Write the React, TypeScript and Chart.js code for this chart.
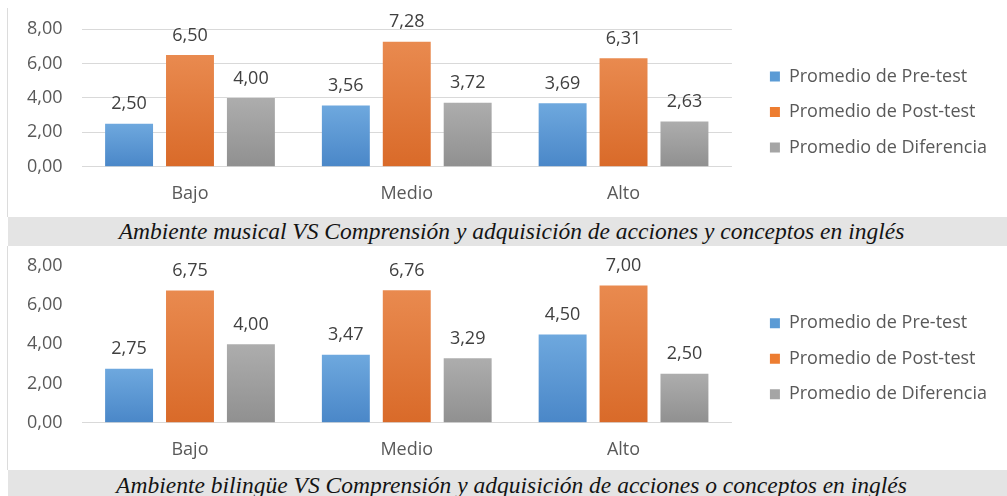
import React, { useEffect, useRef } from 'react';
import { Chart, registerables } from 'chart.js';

Chart.register(...registerables);

const categories = ['Bajo', 'Medio', 'Alto'];
const seriesNames = ['Promedio de Pre-test', 'Promedio de Post-test', 'Promedio de Diferencia'];

const musicalPre = [2.5, 3.56, 3.69];
const musicalPost = [6.5, 7.28, 6.31];
const musicalDiff = [4.0, 3.72, 2.63];

const bilingualPre = [2.75, 3.47, 4.5];
const bilingualPost = [6.75, 6.76, 7.0];
const bilingualDiff = [4.0, 3.29, 2.5];

const yTickMin = 0;
const yTickMax = 8;
const yTickStep = 2;

const captionMusical = 'Ambiente musical VS Comprensión y adquisición de acciones y conceptos en inglés';
const captionBilingual = 'Ambiente bilingüe VS Comprensión y adquisición de acciones o conceptos en inglés';

const flatColors = ['#5b9bd5', '#ed7d31', '#a5a5a5'];
const gradTop = ['#6ea8de', '#e98a4f', '#adadad'];
const gradBottom = ['#4a87c8', '#d96a29', '#909090'];

const FONT = '"Open Sans", "Noto Sans", sans-serif';

const fmt = (v: number) => v.toFixed(2).replace('.', ',');

const barFill = (i: number) => (c: any) => {
  const chart = c.chart;
  const y = chart.scales && chart.scales.y;
  if (!chart.chartArea || !y || c.raw === undefined) return flatColors[i];
  const top = y.getPixelForValue(c.raw);
  const bottom = y.getPixelForValue(0);
  const g = chart.ctx.createLinearGradient(0, top, 0, bottom);
  g.addColorStop(0, gradTop[i]);
  g.addColorStop(1, gradBottom[i]);
  return g;
};

const valueLabels = {
  id: 'valueLabels',
  afterDatasetsDraw(chart: any) {
    const ctx = chart.ctx;
    ctx.save();
    ctx.font = `18px ${FONT}`;
    ctx.fillStyle = '#404040';
    ctx.textAlign = 'center';
    ctx.textBaseline = 'middle';
    chart.data.datasets.forEach((ds: any, i: number) => {
      const meta = chart.getDatasetMeta(i);
      meta.data.forEach((bar: any, j: number) => {
        ctx.fillText(fmt(ds.data[j]), bar.x, bar.y - 19.5);
      });
    });
    ctx.restore();
  },
};

type PanelProps = {
  pre: number[];
  post: number[];
  diff: number[];
  showGrid: boolean;
  top: number;
  height: number;
  padTop: number;
  padBottom: number;
  axisH: number;
  yTickPad: number;
  xTickPad: number;
};

function BarPanel({ pre, post, diff, showGrid, top, height, padTop, padBottom, axisH, yTickPad, xTickPad }: PanelProps) {
  const ref = useRef<HTMLCanvasElement>(null);
  useEffect(() => {
    const values = [pre, post, diff];
    const chart = new Chart(ref.current as HTMLCanvasElement, {
      type: 'bar',
      data: {
        labels: categories,
        datasets: values.map((d, i) => ({
          label: seriesNames[i],
          data: d,
          backgroundColor: barFill(i) as any,
          borderWidth: 0,
          yAxisID: 'y',
        })),
      },
      options: {
        responsive: false,
        animation: false,
        devicePixelRatio: 1,
        layout: { padding: { top: padTop, bottom: padBottom, left: 0, right: 10 } },
        datasets: { bar: { categoryPercentage: 0.843, barPercentage: 0.787 } } as any,
        plugins: {
          tooltip: { enabled: false },
          legend: {
            position: 'right',
            maxWidth: 320,
            labels: {
              font: { family: FONT, size: 18 },
              color: '#595959',
              boxWidth: 10,
              boxHeight: 10,
              padding: 17.5,
              generateLabels: (ch: any) =>
                ch.data.datasets.map((ds: any, i: number) => ({
                  text: ds.label,
                  fillStyle: flatColors[i],
                  strokeStyle: flatColors[i],
                  lineWidth: 0,
                  hidden: false,
                  datasetIndex: i,
                  fontColor: '#595959',
                })),
            },
          },
        },
        scales: {
          x: {
            grid: { display: false, drawTicks: false },
            border: { display: false },
            ticks: {
              autoSkip: false,
              maxRotation: 0,
              font: { family: FONT, size: 18 },
              color: '#595959',
              padding: xTickPad,
            },
            afterFit: (s: any) => {
              s.height = axisH;
            },
          },
          y: {
            min: yTickMin,
            max: yTickMax,
            ticks: {
              stepSize: yTickStep,
              font: { family: FONT, size: 18 },
              color: '#595959',
              padding: yTickPad,
              callback: (v: any) => fmt(Number(v)),
            },
            grid: {
              drawTicks: true,
              tickLength: 19 - yTickPad,
              tickColor: 'rgba(0,0,0,0)',
              lineWidth: 1,
              color: showGrid
                ? '#d9d9d9'
                : ((c: any) => (c.tick && c.tick.value === 0 ? '#d9d9d9' : 'rgba(0,0,0,0)')) as any,
            },
            border: { display: false },
            afterFit: (s: any) => {
              s.width = 73.6;
            },
          },
          yRight: {
            position: 'right',
            display: true,
            grid: { display: false },
            border: { display: false },
            ticks: { display: false },
            afterFit: (s: any) => {
              s.width = 20.5;
            },
          },
        },
      },
      plugins: [valueLabels],
    });
    return () => chart.destroy();
  }, []);
  return (
    <canvas
      ref={ref}
      width={999}
      height={height}
      style={{ position: 'absolute', left: 8, top, width: 999, height }}
    />
  );
}

const captionStyle: React.CSSProperties = {
  position: 'absolute',
  left: 8,
  width: 999,
  boxSizing: 'border-box',
  paddingLeft: 8,
  background: '#e4e4e4',
  fontFamily: '"Liberation Serif", "Times New Roman", serif',
  fontStyle: 'italic',
  fontSize: 23.5,
  color: '#141414',
  textAlign: 'center',
  whiteSpace: 'nowrap',
  overflow: 'hidden',
};

export default function App() {
  return (
    <div style={{ position: 'absolute', left: 0, top: 0, width: 1007, height: 496, background: '#ffffff', overflow: 'hidden' }}>
      <div style={{ position: 'absolute', left: 7, top: 8, width: 1, height: 209, background: '#dcdcdc' }} />
      <BarPanel
        pre={musicalPre}
        post={musicalPost}
        diff={musicalDiff}
        showGrid={true}
        top={10}
        height={206}
        padTop={8}
        padBottom={10}
        axisH={39.3}
        yTickPad={8.5}
        xTickPad={16.2}
      />
      <div style={{ ...captionStyle, top: 217, height: 29, lineHeight: '29px' }}>{captionMusical}</div>
      <div style={{ position: 'absolute', left: 7, top: 246, width: 1, height: 224, background: '#dcdcdc' }} />
      <BarPanel
        pre={bilingualPre}
        post={bilingualPost}
        diff={bilingualDiff}
        showGrid={false}
        top={246}
        height={224}
        padTop={9.4}
        padBottom={8}
        axisH={39.3}
        yTickPad={9.2}
        xTickPad={16}
      />
      <div style={{ ...captionStyle, top: 470, height: 26, lineHeight: '30px' }}>{captionBilingual}</div>
    </div>
  );
}
